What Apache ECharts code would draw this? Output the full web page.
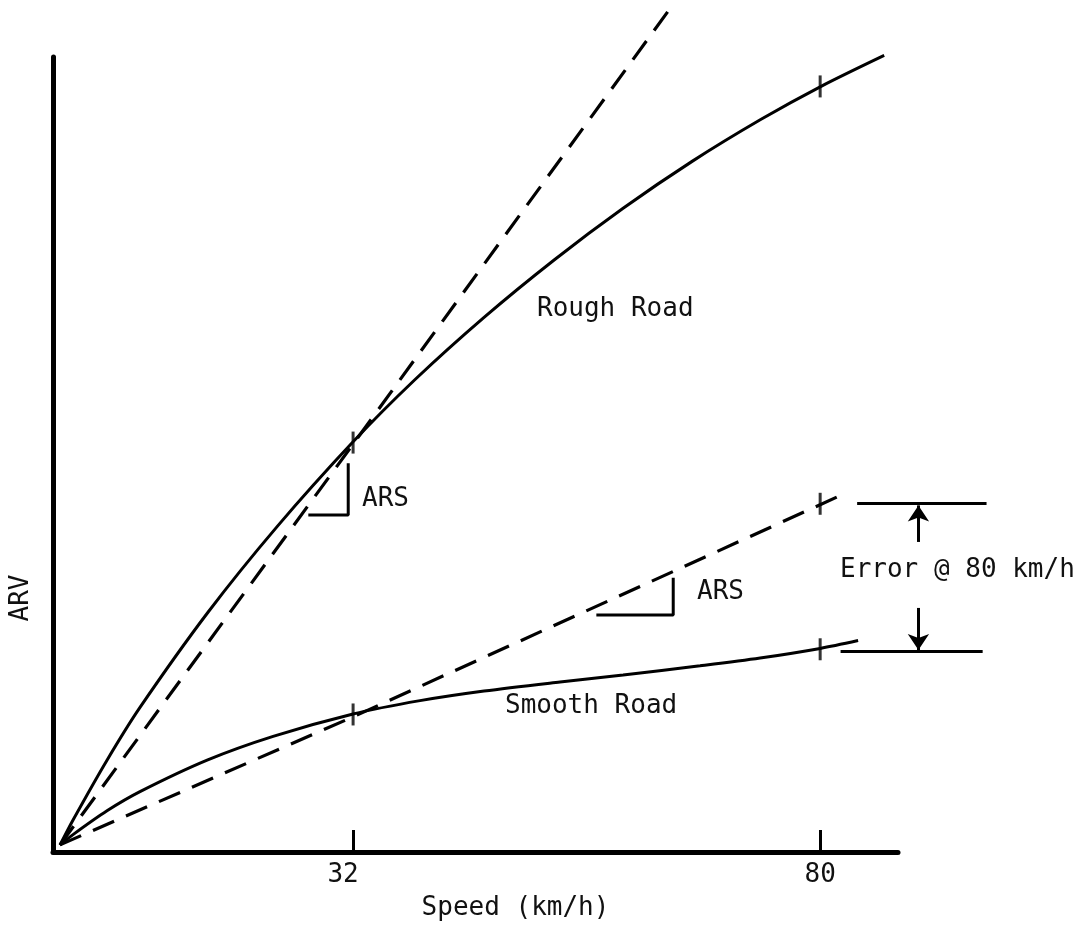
<!DOCTYPE html>
<html>
<head>
<meta charset="utf-8">
<script src="https://cdn.jsdelivr.net/npm/echarts@6/dist/echarts.min.js"></script>
<style>
html,body{margin:0;padding:0;background:#fff;}
#main{width:1089px;height:937px;}
</style>
</head>
<body>
<div id="main"></div>
<script>
// ---- data (speed in km/h, ARV in arbitrary units) ----
const xTickValues = [32, 80];
const roughSpeed = [1.88, 3.22, 6.71, 10.1, 17.09, 24.19, 32, 38.37, 45.46, 52.66, 59.75, 66.84, 73.93, 80, 86.58];
const roughARV   = [0.88, 4.03, 11.55, 18.19, 30.16, 40.93, 51.6, 59.43, 67.25, 74.47, 80.97, 86.87, 92.16, 96.25, 100.2];
const roughArsSpeed = [1.88, 32, 64.4];
const roughArsARV   = [0.9, 51.3, 105.8];
const smoothSpeed = [1.88, 3.22, 6.71, 10.1, 17.0, 23.78, 32, 38.88, 45.46, 53.27, 59.75, 67.66, 73.83, 80, 83.9];
const smoothARV   = [0.88, 2.19, 5.18, 7.59, 11.55, 14.54, 17.36, 19.04, 20.25, 21.39, 22.26, 23.42, 24.4, 25.61, 26.6];
const smoothArsSpeed = [1.88, 32, 82.9];
const smoothArsARV   = [0.9, 17.0, 45.3];
const markSpeed = [32, 80, 32, 80, 80];
const markARV   = [51.5, 96.3, 17.3, 25.5, 43.8];
const errTopSpeed = [83.8, 97.1];
const errTopARV = 43.9;
const errBotSpeed = [82.1, 96.7];
const errBotARV = 25.3;
const errArrowSpeed = 90.1;
const errArrowUp = [39.0, 43.6];
const errArrowDown = [30.7, 25.4];
const ars1Speed = [27.4, 31.5, 31.5];
const ars1ARV = [42.4, 42.4, 48.9];
const ars2Speed = [57.0, 64.9, 64.9];
const ars2ARV = [29.8, 29.8, 34.5];

const FONT = 'DejaVu Sans Mono';
const FS = 26;
const zip = (a, b) => a.map((v, i) => [v, b[i]]);

const chart = echarts.init(document.getElementById('main'));
const lineBase = {type: 'line', symbol: 'none', clip: false, silent: true, z: 3};
chart.setOption({
  backgroundColor: '#fff',
  animation: false,
  grid: {left: 53, right: 191, top: 57, bottom: 85, containLabel: false, outerBoundsMode: 'none'},
  xAxis: {
    type: 'value', min: 1.16, max: 88,
    axisLine: {show: true, lineStyle: {color: '#000', width: 5}},
    axisTick: {show: true, inside: true, length: 22, customValues: xTickValues, lineStyle: {color: '#000', width: 3}},
    axisLabel: {
      show: true, customValues: xTickValues, margin: 10, color: '#111',
      fontFamily: FONT, fontSize: FS,
      formatter: v => v === 32 ? '{l|32}' : '{n|' + v + '}',
      rich: {
        l: {fontFamily: FONT, fontSize: FS, color: '#111', padding: [0, 20, 0, 0]},
        n: {fontFamily: FONT, fontSize: FS, color: '#111'}
      }
    },
    splitLine: {show: false},
    name: 'Speed (km/h)', nameLocation: 'middle', nameGap: 43,
    nameTextStyle: {fontFamily: FONT, fontSize: FS, color: '#111', padding: [0, 0, 0, 80]}
  },
  yAxis: {
    type: 'value', min: 0, max: 100,
    axisLine: {show: true, lineStyle: {color: '#000', width: 5}},
    axisTick: {show: false}, axisLabel: {show: false}, splitLine: {show: false}
  },
  graphic: [
    {type: 'text', left: 537, top: 296, style: {text: 'Rough Road', fontFamily: FONT, fontSize: FS, fill: '#111'}},
    {type: 'text', left: 505, top: 693, style: {text: 'Smooth Road', fontFamily: FONT, fontSize: FS, fill: '#111'}},
    {type: 'text', left: 362, top: 486, style: {text: 'ARS', fontFamily: FONT, fontSize: FS, fill: '#111'}},
    {type: 'text', left: 697, top: 579, style: {text: 'ARS', fontFamily: FONT, fontSize: FS, fill: '#111'}},
    {type: 'text', left: 840, top: 557, style: {text: 'Error @ 80 km/h', fontFamily: FONT, fontSize: FS, fill: '#111'}},
    {type: 'text', x: 21, y: 598, rotation: Math.PI / 2,
     style: {text: 'ARV', fontFamily: FONT, fontSize: FS, fill: '#111', align: 'center', verticalAlign: 'middle'}}
  ],
  series: [
    Object.assign({}, lineBase, {name: 'Rough Road', data: zip(roughSpeed, roughARV), smooth: 0.3,
      lineStyle: {color: '#000', width: 3}}),
    Object.assign({}, lineBase, {name: 'Rough ARS', data: zip(roughArsSpeed, roughArsARV),
      lineStyle: {color: '#000', width: 3.2, type: [23, 13]}}),
    Object.assign({}, lineBase, {name: 'Smooth Road', data: zip(smoothSpeed, smoothARV), smooth: 0.3,
      lineStyle: {color: '#000', width: 3}}),
    Object.assign({}, lineBase, {name: 'Smooth ARS', data: zip(smoothArsSpeed, smoothArsARV),
      lineStyle: {color: '#000', width: 3.2, type: [23, 13]}}),
    Object.assign({}, lineBase, {name: 'ARS bracket 1', data: zip(ars1Speed, ars1ARV), lineStyle: {color: '#000', width: 3}}),
    Object.assign({}, lineBase, {name: 'ARS bracket 2', data: zip(ars2Speed, ars2ARV), lineStyle: {color: '#000', width: 3}}),
    {
      type: 'lines', name: 'Error @ 80 km/h', coordinateSystem: 'cartesian2d', clip: false, silent: true, z: 4,
      symbol: 'none',
      lineStyle: {color: '#000', width: 3, opacity: 1},
      data: [
        {coords: [[errTopSpeed[0], errTopARV], [errTopSpeed[1], errTopARV]]},
        {coords: [[errBotSpeed[0], errBotARV], [errBotSpeed[1], errBotARV]]}
      ]
    },
    {
      type: 'lines', coordinateSystem: 'cartesian2d', clip: false, silent: true, z: 4,
      symbol: ['none', 'arrow'], symbolSize: [11, 16],
      lineStyle: {color: '#000', width: 3, opacity: 1},
      data: [
        {coords: [[errArrowSpeed, errArrowUp[0]], [errArrowSpeed, errArrowUp[1]]]},
        {coords: [[errArrowSpeed, errArrowDown[0]], [errArrowSpeed, errArrowDown[1]]]}
      ]
    },
    {
      type: 'scatter', silent: true, clip: false, z: 5,
      symbol: 'rect', symbolSize: [3, 22],
      itemStyle: {color: '#000'},
      data: zip(markSpeed, markARV)
    }
  ]
});
</script>
</body>
</html>
